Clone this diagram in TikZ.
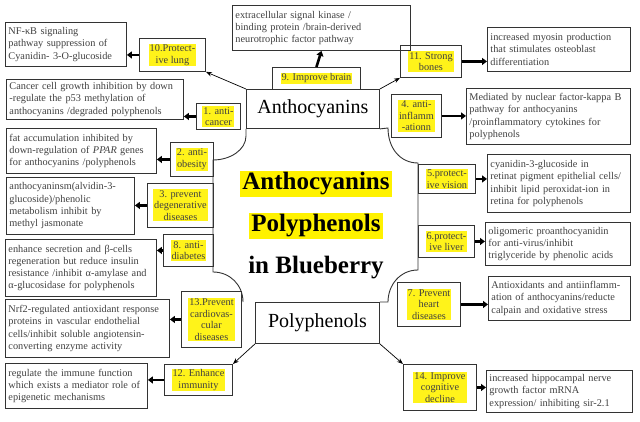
\documentclass[tikz,border=0pt]{standalone}
\usepackage{fontspec}
\setmainfont{Liberation Serif}
\usetikzlibrary{arrows.meta}
\tikzset{
 bigbox/.style={draw=black!80,line width=0.9pt,anchor=north west,align=left,inner sep=3pt,font=\fontsize{10.3}{12.3}\selectfont,text=black!75},
 lab/.style={draw=black!80,line width=0.9pt,anchor=north west,inner sep=0pt},
 hl/.style={fill=yellow!90!white,inner sep=1pt,align=center,font=\fontsize{10.3}{11.5}\selectfont,text=black!75},
 thick arrow/.style={line width=2.6pt,-{Triangle[length=5pt,width=7pt]}},
 thin arrow/.style={line width=0.7pt,-{Stealth[length=6pt]}},
}
\newcommand\mybx[6]{\node[bigbox,text width=#4pt-6pt,minimum height=#5pt] (#1) at (#2,#3) {#6};}
\newcommand\mylab[6]{\node[lab,minimum width=#4pt,minimum height=#5pt] (#1) at (#2,#3) {};\node[hl] at (#1.center) {#6};}
\begin{document}
\begin{tikzpicture}[x=1pt,y=-1pt]
\useasboundingbox (0,0) rectangle (640,422);
% central shape
\node[draw=black!80,line width=0.9pt,minimum width=133pt,minimum height=39pt,anchor=north west,font=\fontsize{20}{21}\selectfont] (antho) at (246,89) {Anthocyanins};
\node[draw=black!80,line width=0.9pt,minimum width=124pt,minimum height=41pt,anchor=north west,font=\fontsize{20}{21}\selectfont] (poly) at (255,302) {Polyphenols};
\draw[black!80,line width=0.9pt] (antho.south west) -- (246,136) .. controls (246,150) and (230,160) .. (213,160) -- (213,272) .. controls (230,272) and (243,285) .. (243,302);
\draw[black!80,line width=0.9pt] (antho.south east) -- (388,128) .. controls (388,148) and (400,163) .. (418,163) -- (418,270) .. controls (400,270) and (388,285) .. (388,302) -- (poly.north east);
\node[fill=yellow,inner sep=2pt,font=\bfseries\fontsize{25}{26}\selectfont] (t1) at (316,184) {Anthocyanins};
\node[fill=yellow,inner sep=2pt,font=\bfseries\fontsize{25}{26}\selectfont] (t2) at (316,226) {Polyphenols};
\node[inner sep=2pt,font=\bfseries\fontsize{25}{26}\selectfont] (t3) at (316,268) {in Blueberry};
% top
\mybx{ext}{232}{5}{178}{45}{extracellular signal kinase /\\binding protein /brain-derived\\neurotrophic factor pathway}
\mylab{l9}{272}{67}{88}{22}{9. Improve brain}
\draw[thick arrow] (l9.north) -- (ext.south);
% left
\mybx{nf}{5}{22}{121}{44}{NF-κB signaling\\pathway suppression of\\Cyanidin- 3-O-glucoside}
\mylab{l10}{139}{38}{66}{33}{10.Protect-\\ive lung}
\draw[thick arrow] (l10.west) -- (nf.east|-l10.west);
\draw[thin arrow] (antho.north west) -- (l10.south east);
\mybx{can}{6}{79}{177}{39}{Cancer cell growth inhibition by down\\-regulate the p53 methylation of\\anthocyanins /degraded polyphenols}
\mylab{l1}{196}{103}{44}{26}{1. anti-\\cancer}
\draw[thick arrow] (l1.west) -- (can.east|-l1.west);
\mybx{fat}{6}{128}{150}{45}{fat accumulation inhibited by\\down-regulation of \textit{PPAR} genes\\for anthocyanins /polyphenols}
\mylab{l2}{170}{142}{43}{34}{2. anti-\\obesity}
\draw[thick arrow] (l2.west) -- (fat.east|-l2.west);
\mybx{ant}{6}{177}{128}{57}{anthocyaninsm(alvidin-3-\\glucoside)/phenolic\\metabolism inhibit by\\methyl jasmonate}
\mylab{l3}{147}{183}{66}{44}{3. prevent\\degenerative\\diseases}
\draw[thick arrow] (l3.west) -- (ant.east|-l3.west);
\mybx{enh}{5}{239}{151}{57}{enhance secretion and β-cells\\regeneration but reduce insulin\\resistance /inhibit α-amylase and\\α-glucosidase for polyphenols}
\mylab{l8}{163}{234}{50}{32}{8. anti-\\diabetes}
\draw[thick arrow] (l8.west) -- (enh.east|-l8.west);
\mybx{nrf}{5}{299}{164}{58}{Nrf2-regulated antioxidant response\\proteins in vascular endothelial\\cells/inhibit soluble angiotensin-\\converting enzyme activity}
\mylab{l13}{181}{291}{60}{56}{13.Prevent\\cardiovas-\\cular\\diseases}
\draw[thick arrow] (l13.west) -- (nrf.east|-l13.west);
\mybx{reg}{5}{363}{142}{45}{regulate the immune function\\which exists a mediator role of\\epigenetic mechanisms}
\mylab{l12}{164}{364}{68}{31}{12. Enhance\\immunity}
\draw[thick arrow] (l12.west) -- (reg.east|-l12.west);
\draw[thin arrow] (poly.south west) -- (l12.north east);
% right
\mybx{myo}{487}{27}{143}{44}{increased myosin production\\that stimulates osteoblast\\differentiation}
\mylab{l11}{400}{45}{61}{32}{11. Strong\\bones}
\draw[thick arrow] (l11.east) -- (myo.west|-l11.east);
\draw[thin arrow] (antho.north east) -- (l11.south west);
\mybx{med}{466}{88}{164}{56}{Mediated by nuclear factor-kappa B\\pathway for anthocyanins\\/proinflammatory cytokines for\\polyphenols}
\mylab{l4}{391}{94}{50}{43}{4. anti-\\inflamm\\-ationn}
\draw[thick arrow] (l4.east) -- (med.west|-l4.east);
\mybx{cya}{487}{154}{143}{58}{cyanidin-3-glucoside in\\retinat pigment epithelial cells/\\inhibit lipid peroxidat-ion in\\retina for polyphenols}
\mylab{l5}{418}{164}{57}{29}{5.protect-\\ive vision}
\draw[thick arrow] (l5.east) -- (cya.west|-l5.east);
\mybx{oli}{485}{222}{145}{43}{oligomeric proanthocyanidin\\for anti-virus/inhibit\\triglyceride by phenolic acids}
\mylab{l6}{418}{225}{56}{32}{6.protect-\\ive liver}
\draw[thick arrow] (l6.east) -- (oli.west|-l6.east);
\mybx{aox}{488}{276}{142}{44}{Antioxidants and antiinflamm-\\ation of anthocyanins/reducte\\calpain and oxidative stress}
\mylab{l7}{397}{282}{63}{44}{7. Prevent\\heart\\diseases}
\draw[thick arrow] (l7.east) -- (aox.west|-l7.east);
\mybx{hip}{486}{370}{146}{42}{increased hippocampal nerve\\growth factor mRNA\\expression/ inhibiting sir-2.1}
\mylab{l14}{403}{364}{73}{46}{14. Improve\\cognitive\\decline}
\draw[thick arrow] (l14.east) -- (hip.west|-l14.east);
\draw[thin arrow] (poly.south east) -- (l14.north west);
\end{tikzpicture}
\end{document}
